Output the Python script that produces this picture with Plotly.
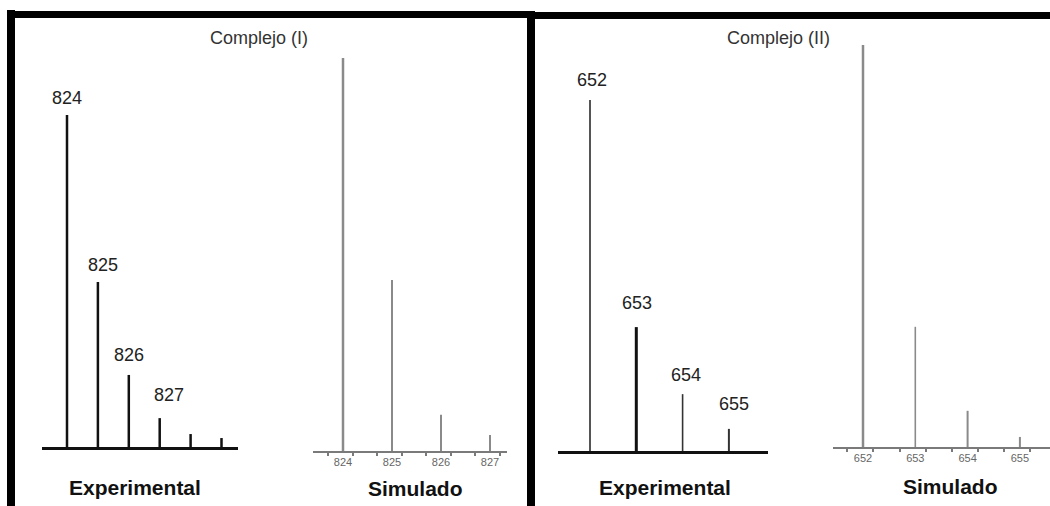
import plotly.graph_objects as go

W, H = 1050, 506

# ---------------- data ----------------
exp1_mz = [824, 825, 826, 827, 828, 829]
exp1_int = [100, 49.7, 21.7, 8.7, 3.9, 2.7]
exp1_labels = ["824", "825", "826", "827"]

sim1_mz = [824, 825, 826, 827]
sim1_int = [100, 43.5, 9.2, 4.1]
sim1_ticks = [824, 825, 826, 827]

exp2_mz = [652, 653, 654, 655]
exp2_int = [100, 35.3, 16.2, 6.3]
exp2_labels = ["652", "653", "654", "655"]

sim2_mz = [652, 653, 654, 655]
sim2_int = [100, 29.9, 9.0, 2.5]
sim2_ticks = [652, 653, 654, 655]

titles = ["Complejo (I)", "Complejo (II)"]
sublabels = ["Experimental", "Simulado", "Experimental", "Simulado"]

FONT = "Liberation Sans, Arial, sans-serif"

# ---------------- layout helpers ----------------
def px(x):
    return x / W

def py(y):
    return 1 - y / H

def xdom(m0, xa, s, x0, x1):
    return dict(domain=[px(x0), px(x1)],
                range=[m0 - (xa - x0) / s, m0 + (x1 - xa) / s])

YMAX = 104.0

def ydom(yb, yt):
    ytop = yb - (yb - yt) * YMAX / 100.0
    return dict(domain=[py(yb), py(ytop)], range=[0, YMAX])

panels = [
    (xdom(824, 67, 30.9, 42, 238), ydom(447, 115)),
    (xdom(824, 343, 49.0, 313, 507), ydom(451, 58)),
    (xdom(652, 590, 46.3, 558, 768), ydom(451, 100)),
    (xdom(652, 863, 52.3, 833, 1050), ydom(447, 45)),
]

fig = go.Figure()

def stems(mzs, vals, axis_idx, colors, widths):
    xa = "x" if axis_idx == 1 else f"x{axis_idx}"
    ya = "y" if axis_idx == 1 else f"y{axis_idx}"
    for m, v, c, w in zip(mzs, vals, colors, widths):
        fig.add_trace(go.Scatter(x=[m, m], y=[0, v], mode="lines",
                                 line=dict(color=c, width=w),
                                 xaxis=xa, yaxis=ya, hoverinfo="skip",
                                 showlegend=False))

stems(exp1_mz, exp1_int, 1, ["#111"] * 6, [2.5] * 6)
stems(sim1_mz, sim1_int, 2, ["#8a8a8a"] * 4, [2.5, 2, 2, 2])
stems(exp2_mz, exp2_int, 3, ["#555", "#111", "#333", "#333"], [2, 3, 1.6, 2])
stems(sim2_mz, sim2_int, 4, ["#8a8a8a"] * 4, [2.5, 1.6, 2, 2])

layout = dict(width=W, height=H, autosize=False,
              margin=dict(l=0, r=0, t=0, b=0),
              paper_bgcolor="white", plot_bgcolor="rgba(0,0,0,0)",
              showlegend=False, font=dict(family=FONT))

for i, (xg, yg) in enumerate(panels, start=1):
    xk = "xaxis" if i == 1 else f"xaxis{i}"
    yk = "yaxis" if i == 1 else f"yaxis{i}"
    anchor_y = "y" if i == 1 else f"y{i}"
    anchor_x = "x" if i == 1 else f"x{i}"
    is_sim = i in (2, 4)
    xa = dict(domain=xg["domain"], range=xg["range"], anchor=anchor_y,
              showgrid=False, zeroline=False, showline=True,
              linecolor="#7a7a7a" if is_sim else "#111",
              linewidth=1.5 if is_sim else 3,
              fixedrange=True)
    if is_sim:
        tv = sim1_ticks if i == 2 else sim2_ticks
        xa.update(tickmode="array", tickvals=tv, ticktext=[str(t) for t in tv],
                  ticks="", showticklabels=True,
                  tickfont=dict(size=11, color="#666", family=FONT),
                  minor=dict(ticks="outside", ticklen=3, tickwidth=1.5,
                             tickcolor="#7a7a7a", dtick=0.5,
                             tick0=tv[0] - 0.3, showgrid=False))
    else:
        xa.update(showticklabels=False, ticks="")
    layout[xk] = xa
    layout[yk] = dict(domain=yg["domain"], range=yg["range"], anchor=anchor_x,
                      visible=False, fixedrange=True)

fig.update_layout(**layout)

# ---------------- peak labels ----------------
exp1_off = [(0, 17), (5, 17), (0, 20), (9, 23)]
for m, v, t, (dx, dy) in zip(exp1_mz, exp1_int, exp1_labels, exp1_off):
    fig.add_annotation(x=m, y=v, xref="x", yref="y", text=t, showarrow=False,
                       xshift=dx, yshift=dy, yanchor="middle",
                       font=dict(size=18, color="#222", family=FONT))

exp2_off = [(2, 20), (1, 24), (3, 19), (5, 25)]
for m, v, t, (dx, dy) in zip(exp2_mz, exp2_int, exp2_labels, exp2_off):
    fig.add_annotation(x=m, y=v, xref="x3", yref="y3", text=t, showarrow=False,
                       xshift=dx, yshift=dy, yanchor="middle",
                       font=dict(size=18, color="#222", family=FONT))

# ---------------- titles & sublabels ----------------
for t, (cx, cy) in zip(titles, [(259, 38), (778, 38)]):
    fig.add_annotation(x=px(cx), y=py(cy), xref="paper", yref="paper", text=t,
                       showarrow=False, xanchor="center", yanchor="middle",
                       font=dict(size=18, color="#333", family=FONT))

for t, (cx, cy) in zip(sublabels, [(135, 487), (415, 488), (665, 487), (950, 486)]):
    fig.add_annotation(x=px(cx), y=py(cy), xref="paper", yref="paper",
                       text=f"<b>{t}</b>", showarrow=False,
                       xanchor="center", yanchor="middle",
                       font=dict(size=21, color="#111", family=FONT))

# ---------------- frame borders ----------------
frame = dict(color="black", width=8)
fig.add_shape(type="line", xref="paper", yref="paper",
              x0=px(11), x1=px(11), y0=py(10), y1=py(520), line=frame)
fig.add_shape(type="line", xref="paper", yref="paper",
              x0=px(7), x1=px(535), y0=py(14.5), y1=py(14.5), line=dict(color="black", width=7))
fig.add_shape(type="line", xref="paper", yref="paper",
              x0=px(531), x1=px(531), y0=py(11), y1=py(520), line=frame)
fig.add_shape(type="line", xref="paper", yref="paper",
              x0=px(527), x1=px(1060), y0=py(15.5), y1=py(15.5), line=dict(color="black", width=7))

fig.write_html("out.html", config={"displayModeBar": False},
               post_script="document.body.style.margin='0';document.body.style.overflow='hidden';")
